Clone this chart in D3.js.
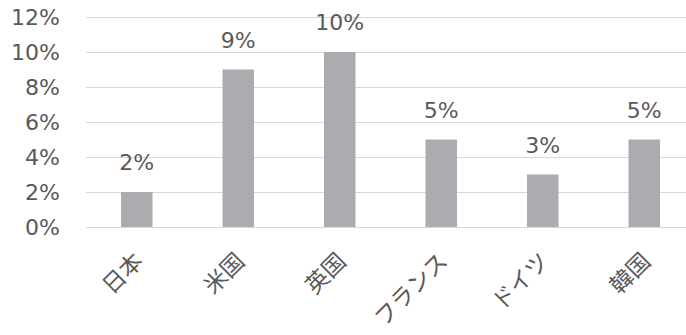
<!DOCTYPE html>
<html lang="ja">
<head>
<meta charset="utf-8">
<style>
  body { margin: 0; background: #fff; }
  text { fill: #595959; }
  .num { font-family: "DejaVu Sans", sans-serif; }
  .cat { font-family: "Noto Sans CJK JP", sans-serif; }
</style>
</head>
<body>
<svg width="686" height="335"></svg>
<script src="https://d3js.org/d3.v7.min.js"></script>
<script>
var countries = ["日本", "米国", "英国", "フランス", "ドイツ", "韓国"];
var shares = [0.02, 0.09, 0.10, 0.05, 0.03, 0.05];
var yTicks = [0, 0.02, 0.04, 0.06, 0.08, 0.10, 0.12];

var svg = d3.select("svg");
var plotLeft = 86, plotRight = 695, plotTop = 17, plotBottom = 227;

var x = d3.scaleBand()
    .domain(countries)
    .range([plotLeft, plotRight])
    .paddingInner(0.69)
    .paddingOuter(0.345);
var y = d3.scaleLinear()
    .domain([0, 0.12])
    .range([plotBottom, plotTop]);
var pct = d3.format(".0%");

// gridlines
svg.append("g")
  .selectAll("line")
  .data(yTicks)
  .join("line")
    .attr("x1", plotLeft)
    .attr("x2", 686)
    .attr("y1", function(d) { return Math.round(y(d)) + 0.5; })
    .attr("y2", function(d) { return Math.round(y(d)) + 0.5; })
    .attr("stroke", "#d9d9d9")
    .attr("stroke-width", 1.2);

// y labels
svg.append("g")
  .selectAll("text")
  .data(yTicks)
  .join("text")
    .attr("class", "num")
    .attr("x", 60)
    .attr("y", function(d) { return y(d); })
    .attr("dy", "0.36em")
    .attr("text-anchor", "end")
    .attr("font-size", 22)
    .text(pct);

// bars
svg.append("g")
  .selectAll("rect")
  .data(countries)
  .join("rect")
    .attr("x", function(d) { return x(d); })
    .attr("width", x.bandwidth())
    .attr("y", function(d, i) { return y(shares[i]); })
    .attr("height", function(d, i) { return plotBottom - y(shares[i]); })
    .attr("fill", "#acacb0");

// value labels
svg.append("g")
  .selectAll("text")
  .data(countries)
  .join("text")
    .attr("class", "num")
    .attr("x", function(d) { return x(d) + x.bandwidth() / 2; })
    .attr("y", function(d, i) { return y(shares[i]) - 22; })
    .attr("text-anchor", "middle")
    .attr("font-size", 22)
    .text(function(d, i) { return pct(shares[i]); });

// category labels, rotated
svg.append("g")
  .selectAll("text")
  .data(countries)
  .join("text")
    .attr("class", "cat")
    .attr("transform", function(d) {
      return "translate(" + (x(d) + x.bandwidth() / 2 + 2) + ",257) rotate(-45)";
    })
    .attr("dy", "0.35em")
    .attr("text-anchor", "end")
    .attr("font-size", 23)
    .text(function(d) { return d; });
</script>
</body>
</html>
